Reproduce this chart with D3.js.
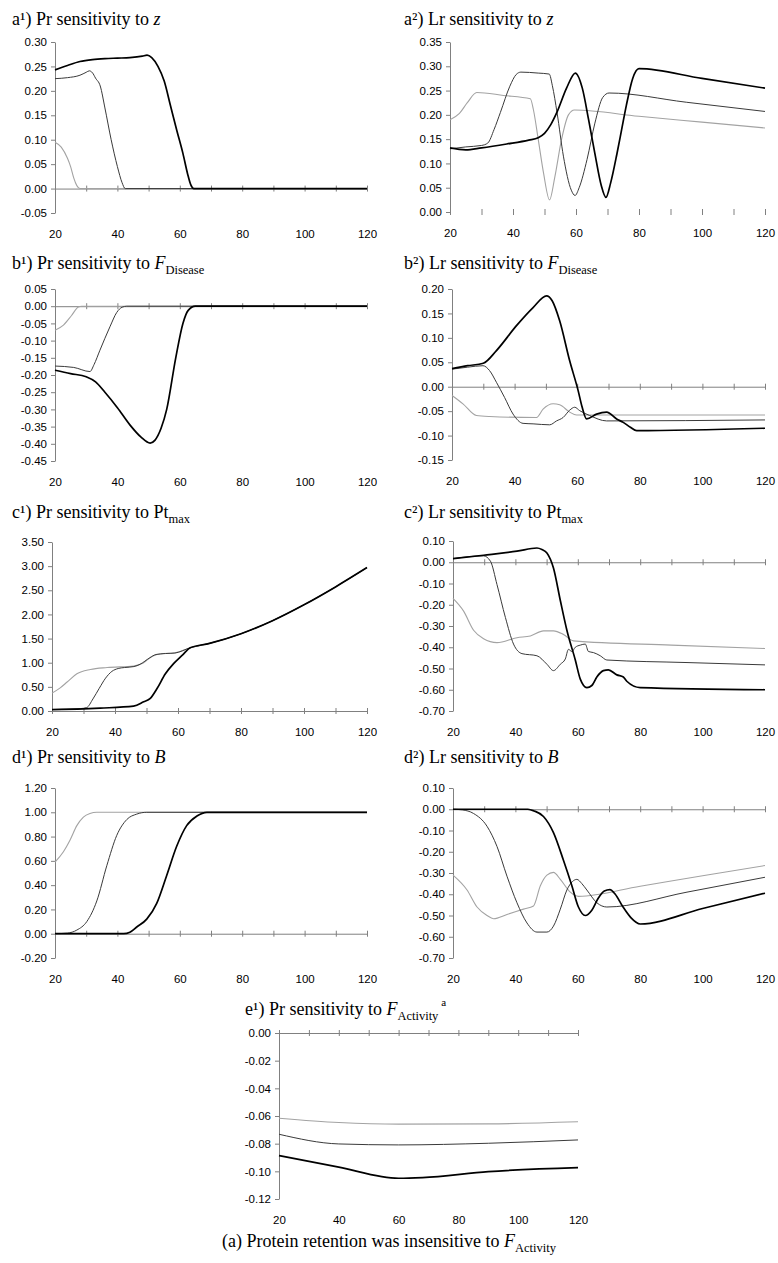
<!DOCTYPE html>
<html>
<head>
<meta charset="utf-8">
<script src="https://cdn.jsdelivr.net/npm/d3@7"></script>
<style>
  body { margin: 0; background: #fff; }
  svg { display: block; }
  .tick text { font-family: "Liberation Sans", Arial, Helvetica, sans-serif; font-size: 11.5px; fill: #000; }
  .axis path, .axis line { stroke: #808080; }
  .title { font-family: "Liberation Serif", "Times New Roman", serif; font-size: 18px; fill: #000; }
</style>
</head>
<body>
<div id="chart-area"></div>
<script>
// x axis (age)
var xTickMarks  = [20, 30, 40, 50, 60, 70, 80, 90, 100, 110, 120];
var xTickLabels = [20, 40, 60, 80, 100, 120];

// y tick values per panel
var a1Ticks = [-0.05, 0, 0.05, 0.10, 0.15, 0.20, 0.25, 0.30];
var a2Ticks = [0, 0.05, 0.10, 0.15, 0.20, 0.25, 0.30, 0.35];
var b1Ticks = [-0.45, -0.40, -0.35, -0.30, -0.25, -0.20, -0.15, -0.10, -0.05, 0, 0.05];
var b2Ticks = [-0.15, -0.10, -0.05, 0, 0.05, 0.10, 0.15, 0.20];
var c1Ticks = [0, 0.5, 1.0, 1.5, 2.0, 2.5, 3.0, 3.5];
var c2Ticks = [-0.70, -0.60, -0.50, -0.40, -0.30, -0.20, -0.10, 0, 0.10];
var d1Ticks = [-0.20, 0, 0.20, 0.40, 0.60, 0.80, 1.00, 1.20];
var d2Ticks = [-0.70, -0.60, -0.50, -0.40, -0.30, -0.20, -0.10, 0, 0.10];
var e1Ticks = [-0.12, -0.10, -0.08, -0.06, -0.04, -0.02, 0];

// series: [age, sensitivity]  light = grey, mid = dark grey, dark = black
var a1Light = [[20,0.095],[22,0.085],[24,0.062],[25,0.045],[26,0.022],[27,0.006],[28,0],[120,0]];
var a1Mid   = [[20,0.225],[24,0.227],[28,0.232],[30,0.238],[31,0.241],[32,0.237],[33,0.226],[34.5,0.21],[36,0.165],[38,0.1],[40,0.045],[41.5,0.012],[42.5,0],[120,0]];
var a1Dark  = [[20,0.243],[24,0.252],[28,0.26],[32,0.264],[36,0.266],[40,0.267],[44,0.268],[48,0.271],[49.5,0.273],[51,0.268],[53,0.25],[55,0.22],[57,0.17],[59,0.12],[61,0.072],[62.5,0.03],[63.5,0.008],[64.5,0],[120,0]];

var a2Light = [[20,0.19],[23,0.203],[25.5,0.225],[28.5,0.246],[37,0.24],[45.5,0.233],[46.5,0.21],[48,0.15],[49.7,0.08],[51.6,0.025],[53.3,0.073],[55.4,0.149],[57.6,0.2],[59.5,0.21],[80,0.197],[100,0.185],[120,0.173]];
var a2Mid   = [[20,0.13],[25,0.134],[30,0.137],[32,0.142],[34,0.17],[36,0.205],[39,0.259],[41,0.283],[42.5,0.288],[48,0.286],[51.5,0.284],[52.5,0.26],[54,0.204],[56,0.115],[58.5,0.045],[59.7,0.034],[61,0.05],[63.5,0.108],[66,0.183],[68.5,0.236],[70.5,0.245],[95,0.226],[120,0.207]];
var a2Dark  = [[20,0.132],[25,0.128],[30,0.132],[38,0.14],[45,0.148],[48,0.153],[50,0.162],[52,0.18],[54,0.206],[57,0.255],[59.8,0.286],[62,0.255],[64,0.19],[66,0.12],[68,0.055],[69.5,0.03],[71,0.06],[73,0.12],[74.5,0.17],[76,0.22],[78,0.275],[80,0.295],[100,0.275],[120,0.255]];

var b1Light = [[20,-0.07],[22.7,-0.055],[25.3,-0.027],[27.5,-0.002],[28.5,0],[120,0]];
var b1Mid   = [[20,-0.174],[26,-0.178],[31.2,-0.19],[32.5,-0.17],[34.4,-0.128],[37.6,-0.06],[39.8,-0.018],[41.5,-0.003],[43,0],[120,0]];
var b1Dark  = [[20,-0.186],[25,-0.196],[30,-0.205],[33,-0.22],[36,-0.25],[40,-0.295],[44,-0.345],[47.5,-0.38],[50.5,-0.398],[52,-0.39],[54,-0.355],[55.8,-0.3],[58.7,-0.15],[61,-0.05],[62.7,-0.012],[65,0],[120,0]];

var b2Light = [[20,-0.018],[23.5,-0.035],[27.8,-0.059],[32,-0.061],[47,-0.063],[49.1,-0.046],[52.3,-0.035],[54.4,-0.037],[57.6,-0.052],[59.8,-0.058],[120,-0.058]];
var b2Mid   = [[20,0.036],[25,0.04],[29.9,0.043],[32,0.033],[34.2,0.009],[36.8,-0.022],[39.5,-0.056],[42.7,-0.075],[45.9,-0.076],[51.2,-0.078],[53.4,-0.07],[55.5,-0.063],[57.6,-0.048],[59.2,-0.042],[60.8,-0.049],[64,-0.059],[69.4,-0.07],[120,-0.068]];
var b2Dark  = [[20,0.037],[25,0.043],[30,0.048],[34.2,0.074],[40.6,0.125],[45.9,0.162],[50.2,0.186],[52,0.176],[54.4,0.135],[57.6,0.053],[60.3,-0.008],[61.5,-0.04],[63,-0.066],[66.2,-0.056],[69.4,-0.052],[72.6,-0.066],[74.7,-0.073],[77,-0.083],[79,-0.09],[120,-0.085]];

var c1Tail  = [[70,1.4],[80,1.6],[90,1.87],[100,2.2],[110,2.57],[120,2.97]];
var c1Light = [[20,0.37],[22.6,0.48],[24.8,0.6],[27.9,0.77],[32.2,0.86],[37.5,0.9],[45.9,0.93],[49.1,1.0],[51.7,1.13],[55.4,1.19],[58.6,1.2],[63.9,1.31]];
var c1Mid   = [[20,0.03],[29,0.05],[31,0.07],[33,0.25],[35,0.47],[37,0.68],[39,0.82],[41,0.88],[43,0.9],[46,0.92],[48,0.97],[51,1.1],[53,1.17],[56,1.19],[59,1.2],[63.9,1.31]];
var c1Dark  = [[20,0.03],[30,0.045],[35.3,0.06],[45.9,0.1],[49.1,0.19],[51.2,0.26],[53.3,0.46],[56,0.77],[58.6,0.98],[61.3,1.15],[63.9,1.31]];

var c2Light = [[20,-0.17],[23.4,-0.23],[26.6,-0.32],[29.8,-0.36],[34.1,-0.378],[40.5,-0.355],[44.8,-0.347],[49,-0.323],[52.2,-0.323],[55.4,-0.34],[58.6,-0.37],[90,-0.39],[120,-0.406]];
var c2Mid   = [[20,0.017],[29.8,0.03],[32,0.005],[34.1,-0.105],[36.8,-0.26],[39.4,-0.385],[42.1,-0.43],[46.9,-0.44],[50.1,-0.48],[52.2,-0.51],[54.4,-0.48],[56,-0.455],[57,-0.41],[58.1,-0.42],[59.2,-0.4],[60.8,-0.39],[62.4,-0.385],[63.4,-0.42],[65,-0.425],[67.2,-0.44],[69.3,-0.46],[95,-0.472],[120,-0.483]];
var c2Dark  = [[20,0.017],[29.8,0.033],[40.5,0.052],[46.9,0.067],[48.5,0.06],[50.1,0.044],[52.2,-0.027],[54.4,-0.18],[56.5,-0.32],[59.2,-0.46],[60.8,-0.55],[62.9,-0.59],[64.5,-0.58],[66.1,-0.54],[68.2,-0.51],[69.8,-0.506],[72.5,-0.53],[74.6,-0.54],[75.7,-0.56],[80,-0.59],[120,-0.6]];

var d1Light = [[20,0.59],[22.7,0.675],[24.8,0.77],[27,0.89],[29.1,0.96],[31.2,0.99],[33.4,1.0],[120,1.0]];
var d1Mid   = [[20,0],[24,0.005],[27,0.03],[30.2,0.1],[33.4,0.27],[36.6,0.56],[39.8,0.81],[43,0.94],[46.2,0.985],[49.4,1.0],[120,1.0]];
var d1Dark  = [[20,0],[42,0],[44,0.012],[46.2,0.055],[49.4,0.12],[52.6,0.25],[55.8,0.48],[59,0.72],[62.2,0.89],[65.5,0.97],[68.7,1.0],[120,1.0]];

var d2Light = [[20,-0.31],[24.5,-0.38],[27.7,-0.46],[30.9,-0.5],[33,-0.515],[37.3,-0.495],[42.6,-0.47],[45.8,-0.455],[48,-0.36],[50.1,-0.31],[52.2,-0.297],[54.4,-0.33],[57.6,-0.39],[60.2,-0.41],[80,-0.362],[100,-0.313],[120,-0.265]];
var d2Mid   = [[20,0],[23,-0.003],[26.6,-0.02],[30.9,-0.08],[34.1,-0.175],[37.3,-0.315],[40.5,-0.44],[43.7,-0.535],[46.9,-0.578],[50.1,-0.578],[52.2,-0.55],[54.4,-0.47],[56.5,-0.38],[58.3,-0.34],[59.7,-0.33],[61.3,-0.35],[62.9,-0.38],[66.1,-0.44],[69.3,-0.46],[95,-0.39],[120,-0.32]];
var d2Dark  = [[20,0],[44,0],[46,-0.008],[49,-0.034],[52.2,-0.11],[55.4,-0.24],[58.1,-0.36],[60.2,-0.46],[62.4,-0.5],[64.5,-0.475],[66.5,-0.42],[68.5,-0.385],[70.3,-0.378],[72,-0.4],[74.5,-0.46],[77,-0.51],[80,-0.54],[100,-0.467],[120,-0.395]];

var e1Light = [[20,-0.0616],[40,-0.0647],[60,-0.0659],[90,-0.0657],[120,-0.0642]];
var e1Mid   = [[20,-0.0732],[40,-0.0802],[60,-0.0809],[90,-0.0797],[120,-0.0773]];
var e1Dark  = [[20,-0.0886],[40,-0.097],[60,-0.105],[68,-0.1045],[90,-0.1002],[120,-0.0973]];

// title pieces: [text, kind]  kind: n normal, i italic, sub, sup
var panels = [
  {left: 55,  right: 367, top: 42,  bottom: 213, tx: 12,  ty: 25,  ticks: a1Ticks, series: [a1Light, a1Mid, a1Dark], title: [["a¹) Pr sensitivity to ","n"],["z","i"]]},
  {left: 450, right: 765, top: 42,  bottom: 212, tx: 404, ty: 25,  ticks: a2Ticks, series: [a2Light, a2Mid, a2Dark], title: [["a²) Lr sensitivity to ","n"],["z","i"]], noXLine: true},
  {left: 55,  right: 367, top: 289, bottom: 461, tx: 12,  ty: 269, ticks: b1Ticks, series: [b1Light, b1Mid, b1Dark], title: [["b¹) Pr sensitivity to ","n"],["F","i"],["Disease","sub"]]},
  {left: 452, right: 765, top: 289, bottom: 460, tx: 404, ty: 269, ticks: b2Ticks, series: [b2Light, b2Mid, b2Dark], title: [["b²) Lr sensitivity to ","n"],["F","i"],["Disease","sub"]]},
  {left: 52,  right: 367, top: 542, bottom: 711, tx: 12,  ty: 518, ticks: c1Ticks, series: [c1Light.concat(c1Tail), c1Mid.concat(c1Tail), c1Dark.concat(c1Tail)], title: [["c¹) Pr sensitivity to Pt","n"],["max","sub"]]},
  {left: 453, right: 765, top: 541, bottom: 711, tx: 404, ty: 518, ticks: c2Ticks, series: [c2Light, c2Mid, c2Dark], title: [["c²) Lr sensitivity to Pt","n"],["max","sub"]]},
  {left: 55,  right: 367, top: 788, bottom: 958, tx: 12,  ty: 763, ticks: d1Ticks, series: [d1Light, d1Mid, d1Dark], title: [["d¹) Pr sensitivity to ","n"],["B","i"]]},
  {left: 453, right: 765, top: 788, bottom: 958, tx: 404, ty: 763, ticks: d2Ticks, series: [d2Light, d2Mid, d2Dark], title: [["d²) Lr sensitivity to ","n"],["B","i"]]},
  {left: 279, right: 578, top: 1033, bottom: 1199, tx: 245, ty: 1015, ticks: e1Ticks, series: [e1Light, e1Mid, e1Dark], title: [["e¹) Pr sensitivity to ","n"],["F","i"],["Activity","sub"],["a","sup"]]}
];

var seriesStyle = [
  {color: "#a3a3a3", width: 1.1},
  {color: "#3a3a3a", width: 1},
  {color: "#000",    width: 1.7}
];

var svg = d3.select("#chart-area")
  .append("svg")
    .attr("width", 778)
    .attr("height", 1263);

function drawTitle(x, y, parts, anchor) {
  var t = svg.append("text")
    .attr("class", "title")
    .attr("x", x)
    .attr("y", y)
    .attr("text-anchor", anchor || "start");
  var shift = 0;
  parts.forEach(function(p) {
    var s = t.append("tspan").text(p[0]);
    var target = 0;
    if (p[1] == "i") s.attr("font-style", "italic");
    if (p[1] == "sub") { target = 5; s.attr("font-size", "12.5px"); }
    if (p[1] == "sup") { target = -9; s.attr("font-size", "11px").attr("dx", 3); }
    if (target != shift) { s.attr("dy", target - shift); shift = target; }
  });
}

panels.forEach(function(p) {
  var x = d3.scaleLinear().domain([20, 120]).range([p.left, p.right]);
  var y = d3.scaleLinear()
    .domain([d3.min(p.ticks), d3.max(p.ticks)])
    .range([p.bottom, p.top]);

  drawTitle(p.tx, p.ty, p.title);

  // y axis
  svg.append("g")
    .attr("class", "axis")
    .attr("transform", "translate(" + p.left + ",0)")
    .call(d3.axisLeft(y).tickValues(p.ticks).tickSizeInner(4).tickSizeOuter(0).tickPadding(4)
      .tickFormat(function(d) { return d.toFixed(2); }));

  // x axis line through zero, ticks crossing it
  var xg = svg.append("g")
    .attr("class", "axis")
    .attr("transform", "translate(0," + y(0) + ")")
    .call(d3.axisBottom(x).tickValues(xTickMarks).tickSizeOuter(0).tickFormat(""));
  xg.selectAll(".tick line").attr("y1", -3).attr("y2", 3);
  if (p.noXLine) xg.select(".domain").remove();

  // x labels along the bottom
  var lg = svg.append("g")
    .attr("transform", "translate(0," + p.bottom + ")")
    .call(d3.axisBottom(x).tickValues(xTickLabels).tickSize(0).tickPadding(17).tickFormat(d3.format("d")));
  lg.select(".domain").remove();

  var line = d3.line()
    .x(function(d) { return x(d[0]); })
    .y(function(d) { return y(d[1]); })
    .curve(d3.curveMonotoneX);

  p.series.forEach(function(s, i) {
    svg.append("path")
      .datum(s)
      .attr("fill", "none")
      .attr("stroke", seriesStyle[i].color)
      .attr("stroke-width", seriesStyle[i].width)
      .attr("stroke-linejoin", "round")
      .attr("d", line);
  });
});

drawTitle(389, 1247, [["(a) Protein retention was insensitive to ","n"],["F","i"],["Activity","sub"]], "middle");
</script>
</body>
</html>
